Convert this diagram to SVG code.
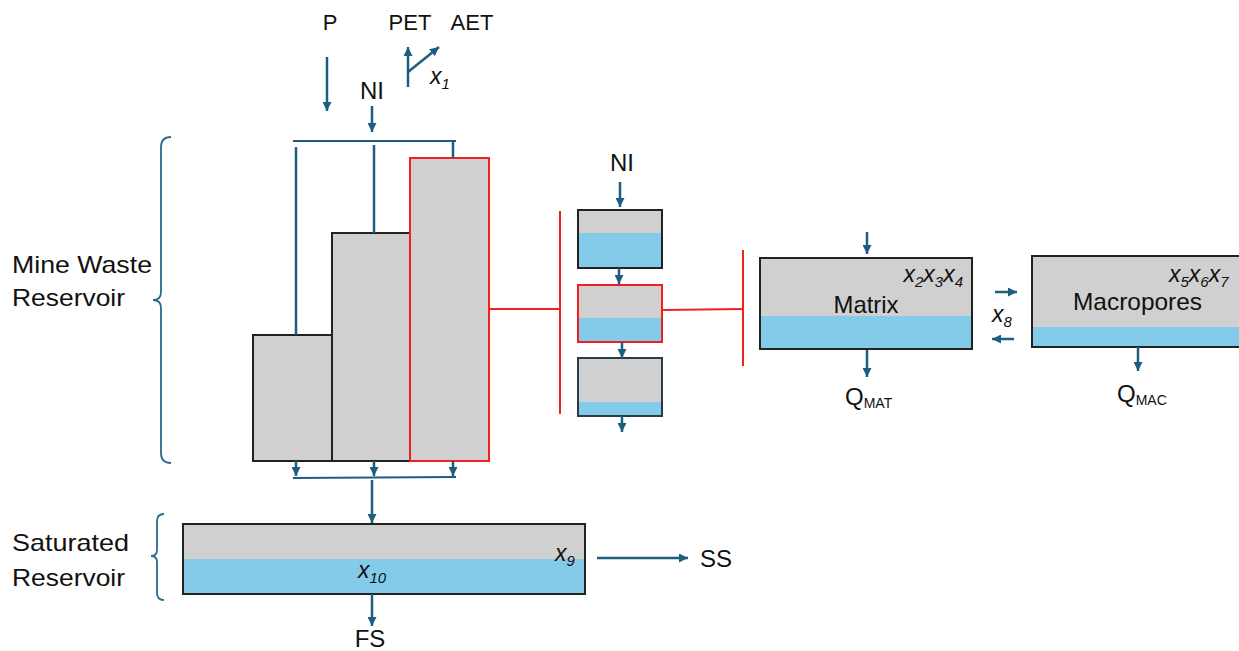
<svg xmlns="http://www.w3.org/2000/svg" width="1239" height="651" viewBox="0 0 1239 651">
<style>
text{font-family:"Liberation Sans",Arial,sans-serif;fill:#111;}
.lbl{font-size:22px;}
.big{font-size:24px;}
.var{font-size:23px;font-style:italic;}
.sub{font-size:15px;font-style:italic;}
.subn{font-size:14px;}
.flow{stroke:#1d5e80;stroke-width:2.5;fill:none;}
.brace{stroke:#2b6b8c;stroke-width:1.8;fill:none;}
.red{stroke:#f02020;stroke-width:2;fill:none;}
.store{fill:#d0d0d0;stroke:#222;stroke-width:2;}
.storered{fill:#d0d0d0;stroke:#f02020;stroke-width:2;}
.water{fill:#84cbea;}
</style>
<defs>
<marker id="ah" viewBox="0 0 10 10" refX="10" refY="5" markerWidth="9" markerHeight="9" markerUnits="userSpaceOnUse" orient="auto">
<path d="M0,0 L10,5 L0,10 z" fill="#1d5e80"/>
</marker>
</defs>
<rect width="1239" height="651" fill="#fff"/>

<g id="labels-top">
<text class="lbl" x="330" y="30" text-anchor="middle">P</text>
<text class="lbl" x="410" y="30" text-anchor="middle">PET</text>
<text class="lbl" x="472" y="30" text-anchor="middle">AET</text>
<text x="430" y="84"><tspan class="var">x</tspan><tspan class="sub" dy="5">1</tspan></text>
<text class="big" x="372" y="99" text-anchor="middle">NI</text>
</g>

<g id="mine-waste-label">
<text class="big" x="12" y="273" textLength="140" lengthAdjust="spacingAndGlyphs">Mine Waste</text>
<text class="big" x="12" y="306" textLength="113" lengthAdjust="spacingAndGlyphs">Reservoir</text>
<path class="brace" d="M171,137 Q161,137 161,147 L161,292 Q161,300 153,300 Q161,300 161,308 L161,453 Q161,463 171,463"/>
</g>

<g id="saturated-label">
<text class="big" x="12" y="551" textLength="117" lengthAdjust="spacingAndGlyphs">Saturated</text>
<text class="big" x="12" y="586" textLength="113" lengthAdjust="spacingAndGlyphs">Reservoir</text>
<path class="brace" d="M164,514 Q157,514 157,521 L157,550 Q157,556 151,556 Q157,556 157,562 L157,593 Q157,600 164,600"/>
</g>

<g id="store-1">
<rect class="store" x="253" y="335" width="79" height="126"/>
</g>
<g id="store-2">
<rect class="store" x="332" y="233" width="78" height="228"/>
</g>
<g id="store-3">
<rect class="storered" x="410" y="158" width="79" height="303"/>
</g>

<g id="layer-top">
<rect class="store" x="578" y="210" width="84" height="58"/>
<rect class="water" x="579" y="233" width="82" height="34"/>
</g>
<g id="layer-mid">
<rect class="storered" x="578" y="285" width="84" height="57"/>
<rect class="water" x="579" y="318" width="82" height="23"/>
</g>
<g id="layer-bottom">
<rect class="store" x="578" y="358" width="84" height="58" style="stroke:#2a3c48"/>
<rect class="water" x="579" y="402" width="82" height="13"/>
</g>
<g id="layer-ni">
<text class="big" x="622" y="171" text-anchor="middle">NI</text>
</g>

<g id="matrix">
<rect class="store" x="760" y="258" width="212" height="91"/>
<rect class="water" x="761" y="316" width="210" height="32"/>
<text class="big" x="866" y="313" text-anchor="middle" textLength="65" lengthAdjust="spacingAndGlyphs">Matrix</text>
<text x="963" y="282" text-anchor="end"><tspan class="var">x</tspan><tspan class="sub" dy="5">2</tspan><tspan class="var" dy="-5">x</tspan><tspan class="sub" dy="5">3</tspan><tspan class="var" dy="-5">x</tspan><tspan class="sub" dy="5">4</tspan></text>
<text x="845" y="405"><tspan class="big">Q</tspan><tspan class="subn" dy="3">MAT</tspan></text>
</g>

<g id="macropores">
<rect class="store" x="1032" y="256" width="212" height="91"/>
<rect class="water" x="1033" y="327" width="210" height="19"/>
<text class="big" x="1073" y="310" textLength="129" lengthAdjust="spacingAndGlyphs">Macropores</text>
<text x="1169" y="282"><tspan class="var">x</tspan><tspan class="sub" dy="5">5</tspan><tspan class="var" dy="-5">x</tspan><tspan class="sub" dy="5">6</tspan><tspan class="var" dy="-5">x</tspan><tspan class="sub" dy="5">7</tspan></text>
<text x="1117" y="402"><tspan class="big">Q</tspan><tspan class="subn" dy="3">MAC</tspan></text>
</g>
<g id="x8">
<text x="992" y="322"><tspan class="var">x</tspan><tspan class="sub" dy="5">8</tspan></text>
</g>

<g id="saturated">
<rect class="store" x="183" y="524" width="402" height="70"/>
<rect class="water" x="184" y="559" width="400" height="34"/>
<text x="555" y="561"><tspan class="var">x</tspan><tspan class="sub" dy="5">9</tspan></text>
<text x="358" y="578"><tspan class="var">x</tspan><tspan class="sub" dy="5">10</tspan></text>
</g>
<g id="outlets">
<text class="big" x="716" y="567" text-anchor="middle">SS</text>
<text class="big" x="370" y="647" text-anchor="middle">FS</text>
</g>

<g id="connectors">
<line class="flow" x1="327" y1="57" x2="327" y2="111" marker-end="url(#ah)"/>
<line class="flow" x1="408" y1="87" x2="408" y2="47" marker-end="url(#ah)"/>
<line class="flow" x1="408" y1="72" x2="439" y2="47" marker-end="url(#ah)"/>
<line class="flow" x1="372" y1="106" x2="372" y2="132" marker-end="url(#ah)"/>
<line class="flow" x1="293" y1="141" x2="456" y2="141" style="stroke-width:2"/>
<line class="flow" x1="296" y1="147" x2="296" y2="335"/>
<line class="flow" x1="374" y1="145" x2="374" y2="233"/>
<line class="flow" x1="453" y1="141" x2="453" y2="158"/>
<line class="flow" x1="296" y1="461" x2="296" y2="476" marker-end="url(#ah)"/>
<line class="flow" x1="374" y1="461" x2="374" y2="476" marker-end="url(#ah)"/>
<line class="flow" x1="453" y1="461" x2="453" y2="476" marker-end="url(#ah)"/>
<line class="flow" x1="293" y1="478" x2="456" y2="477" style="stroke-width:2"/>
<line class="flow" x1="372" y1="480" x2="372" y2="523" marker-end="url(#ah)"/>
<line class="flow" x1="597" y1="558" x2="688" y2="558" marker-end="url(#ah)"/>
<line class="flow" x1="372" y1="594" x2="372" y2="626" marker-end="url(#ah)"/>
<line class="flow" x1="620" y1="182" x2="620" y2="207" marker-end="url(#ah)"/>
<line class="flow" x1="619" y1="268" x2="619" y2="284" marker-end="url(#ah)"/>
<line class="flow" x1="622" y1="342" x2="622" y2="358" marker-end="url(#ah)"/>
<line class="flow" x1="622" y1="416" x2="622" y2="432" marker-end="url(#ah)"/>
<line class="flow" x1="867" y1="232" x2="867" y2="254" marker-end="url(#ah)"/>
<line class="flow" x1="867" y1="350" x2="867" y2="377" marker-end="url(#ah)"/>
<line class="flow" x1="995" y1="292" x2="1017" y2="292" marker-end="url(#ah)"/>
<line class="flow" x1="1014" y1="339" x2="992" y2="339" marker-end="url(#ah)"/>
<line class="flow" x1="1138" y1="347" x2="1138" y2="371" marker-end="url(#ah)"/>
<line class="red" x1="489" y1="309" x2="560" y2="309"/>
<line class="red" x1="560" y1="211" x2="560" y2="414"/>
<line class="red" x1="662" y1="310" x2="743" y2="309"/>
<line class="red" x1="743" y1="250" x2="743" y2="366"/>
</g>
</svg>
